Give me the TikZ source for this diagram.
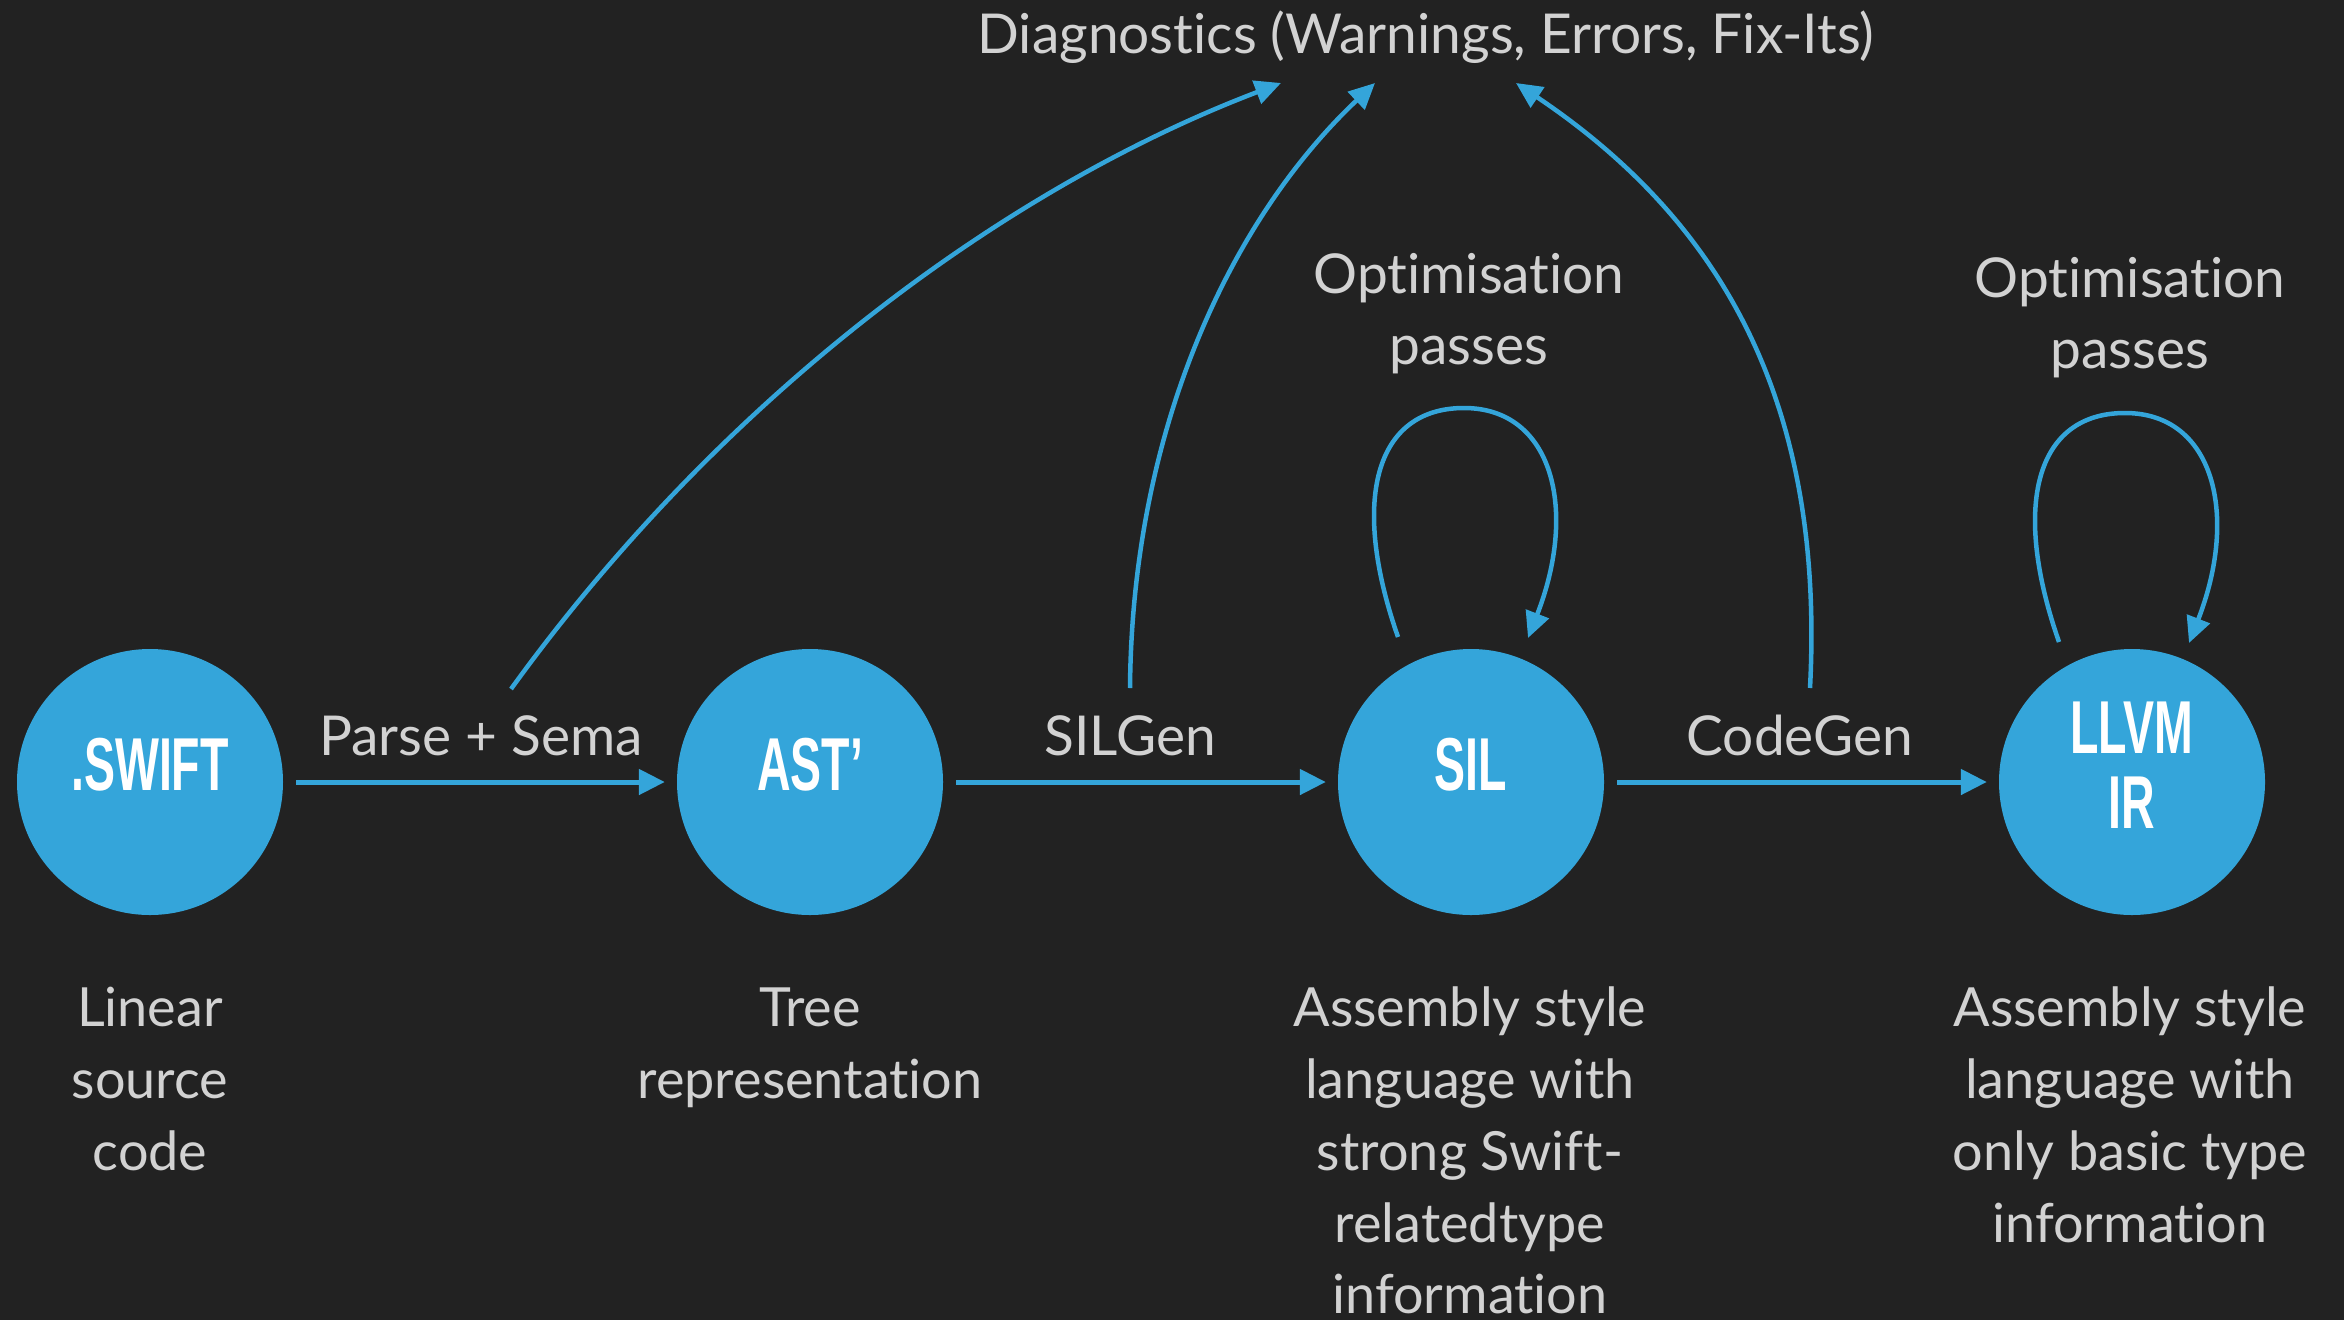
\documentclass[tikz,border=0pt]{standalone}
\usepackage{fontspec}
\setmainfont{Lato}[Ligatures={NoCommon}]
\newfontfamily\bubblefont{Liberation Sans}
\usetikzlibrary{arrows.meta}
\definecolor{bg}{HTML}{222222}
\definecolor{sblue}{HTML}{34A5DA}
\definecolor{tgray}{HTML}{D2D2D2}
\newcommand\condtxt[1]{\scalebox{0.62}[1]{#1}}
\begin{document}
\begin{tikzpicture}[x=1pt,y=-1pt,
  bubble/.style={circle,fill=sblue,minimum size=266pt,inner sep=0pt},
  btext/.style={text=white,font=\bubblefont\bfseries\fontsize{75}{75}\selectfont,inner sep=0pt,align=center},
  lbl/.style={text=tgray,font=\fontsize{55}{55}\selectfont,inner sep=0pt,anchor=base},
  desc/.style={text=tgray,font=\fontsize{54}{54}\selectfont,inner sep=0pt,anchor=base},
  flow/.style={draw=sblue,line width=5pt,-{Triangle[length=26pt,width=25pt]},shorten <=13pt,shorten >=12pt},
  diag/.style={draw=sblue,line width=4.5pt,-{Triangle[length=26pt,width=24pt]}}]
\fill[bg] (0,0) rectangle (2344,1320);
\useasboundingbox (0,0) rectangle (2344,1320);

% bubbles
\node[bubble] (swift) at (150,782) {};
\node[bubble] (ast) at (810,782) {};
\node[bubble] (sil) at (1471,782) {};
\node[bubble] (llvm) at (2132,782) {};
\node[btext] (swiftt) at (150,765) {\condtxt{.SWIFT}};
\node[btext] (astt) at (810,765) {\condtxt{AST’}};
\node[btext] (silt) at (1471,765) {\condtxt{SIL}};
\node[btext] (llvmt) at (2132,765) {\condtxt{LLVM}\\\condtxt{IR}};

% flow arrows
\draw[flow] (swift) -- (ast);
\draw[flow] (ast) -- (sil);
\draw[flow] (sil) -- (llvm);

% labels
\node[lbl] (parse) at (481,755) {Parse + Sema};
\node[lbl] (silgen) at (1130,755) {SILGen};
\node[lbl] (codegen) at (1800,755) {CodeGen};
\node[lbl] (diagt) at (1426,53) {Diagnostics (Warnings, Errors, Fix-Its)};
\node[lbl] (opt1a) at (1469,293) {Optimisation};
\node[lbl] (opt1b) at (1469,364) {passes};
\node[lbl] (opt2a) at (2130,297) {Optimisation};
\node[lbl] (opt2b) at (2130,368) {passes};

% diagnostics curves
\coordinate (s1) at (511,689);
\coordinate (s2) at (1130,688);
\coordinate (s3) at (1810,688);
\coordinate (d1) at (1281,83);
\coordinate (d2) at (1375,83);
\coordinate (d3) at (1516,83);
\draw[diag] (s1) .. controls (720,400) and (1000,190) .. (d1);
\draw[diag] (s2) .. controls (1132,430) and (1230,220) .. (d2);
\draw[diag] (s3) .. controls (1825,400) and (1720,220) .. (d3);

% self loops
\coordinate (l1s) at (1398,637);
\coordinate (l1t) at (1464,408);
\coordinate (l1e) at (1528,638);
\draw[diag] (l1s) .. controls (1350,500) and (1375,408) .. (l1t) .. controls (1553,408) and (1578,510) .. (l1e);
\coordinate (l2s) at (2059,642);
\coordinate (l2t) at (2125,413);
\coordinate (l2e) at (2189,643);
\draw[diag] (l2s) .. controls (2011,505) and (2036,413) .. (l2t) .. controls (2214,413) and (2239,515) .. (l2e);

% descriptions
\node[desc] (a1) at (150,1026) {Linear};
\node[desc] (a2) at (150,1098) {source};
\node[desc] (a3) at (150,1170) {code};
\node[desc] (b1) at (810,1026) {Tree};
\node[desc] (b2) at (810,1098) {representation};
\node[desc] (c1) at (1470,1026) {Assembly style};
\node[desc] (c2) at (1470,1098) {language with};
\node[desc] (c3) at (1470,1170) {strong Swift-};
\node[desc] (c4) at (1470,1242) {relatedtype};
\node[desc] (c5) at (1470,1313) {information};
\node[desc] (e1) at (2130,1026) {Assembly style};
\node[desc] (e2) at (2130,1098) {language with};
\node[desc] (e3) at (2130,1170) {only basic type};
\node[desc] (e4) at (2130,1242) {information};
\end{tikzpicture}
\end{document}
